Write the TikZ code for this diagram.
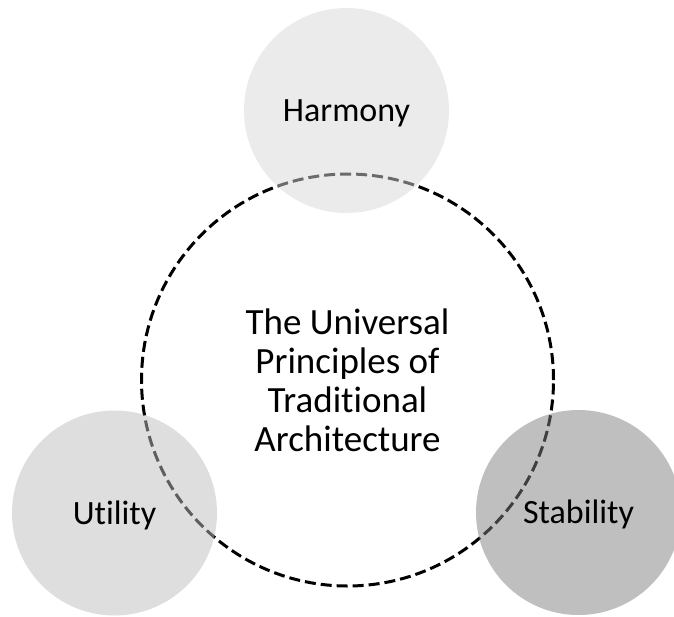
\documentclass[tikz,border=0pt]{standalone}
\usepackage{fontspec}
\setmainfont{Carlito}[Ligatures={NoCommon,NoRequired,NoContextual}]
\usetikzlibrary{positioning}

\tikzstyle{mainring} = [draw=black, line width=3pt, dash pattern=on 11pt off 5pt,
    circle, minimum size=412pt, inner sep=0pt, align=center,
    font=\fontsize{37}{39}\selectfont]
\tikzstyle{pillar} = [circle, minimum size=205pt, inner sep=0pt,
    fill opacity=0.5, text opacity=1, text height=22pt, text depth=0pt,
    font=\fontsize{34}{40}\selectfont]

\begin{document}
\begin{tikzpicture}[x=1pt,y=-1pt]
\useasboundingbox (0,0) rectangle (674,616);
\node [mainring] (core) at (347.5,380) {The Universal\\Principles of\\Traditional\\Architecture};
\node [pillar, fill={rgb,255:red,215;green,215;blue,215}] (harmony) at (346.5,110.5) {Harmony};
\node [pillar, fill={rgb,255:red,189;green,189;blue,189}] (utility) at (114.5,513) {Utility};
\node [pillar, fill={rgb,255:red,127;green,127;blue,127}] (stability) at (578.5,512.5) {Stability};
\end{tikzpicture}
\end{document}
